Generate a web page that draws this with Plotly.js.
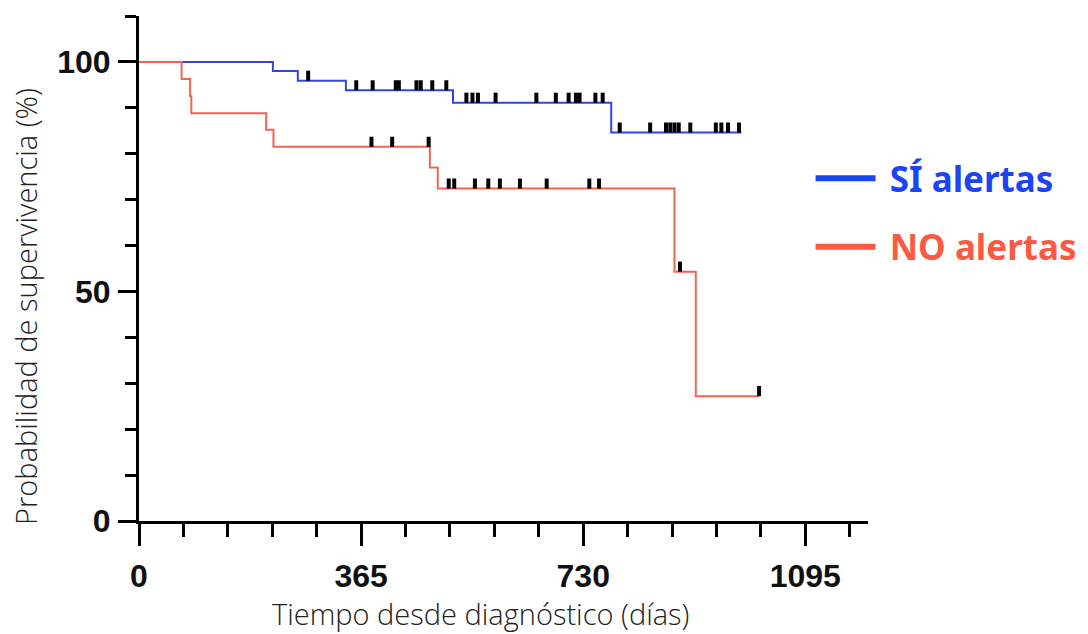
<!DOCTYPE html>
<html>
<head>
<meta charset="utf-8">
<script src="https://cdn.plot.ly/plotly-3.0.1.min.js"></script>
<style>html,body{margin:0;padding:0;background:#fff}#chart{width:1088px;height:634px}</style>
</head>
<body>
<div id="chart"></div>
<script>
// ---- Data ----
const seriesNames = ["SÍ alertas", "NO alertas"];

// Kaplan-Meier step points: time (days) and survival (%) after each event
const siTime = [0, 220, 261, 340, 516, 776, 990];
const siSurv = [100, 98.0, 95.9, 93.8, 91.1, 84.6, 84.6];
const siCensor = [278, 357, 384, 422, 427, 456, 463, 482, 505, 538, 548, 557, 586,
                  653, 685, 706, 718, 724, 750, 762, 790, 840, 866, 873, 880, 887,
                  906, 948, 957, 968, 986];

const noTime = [0, 70, 84, 86, 209, 221, 478, 491, 880, 915, 1019];
const noSurv = [100, 96.3, 92.5, 88.8, 85.2, 81.5, 77.0, 72.4, 54.3, 27.2, 27.2];
const noCensor = [382, 416, 476, 509, 518, 552, 574, 593, 626, 670, 740, 756, 889, 1019];

const xTickVals = [0, 365, 730, 1095];
const yTickVals = [0, 50, 100];

const xTitle = "Tiempo desde diagnóstico (días)";
const yTitle = "Probabilidad de supervivencia (%)";

// ---- Styles ----
const blueLine = "#3443e6";
const redLine = "#ef6551";
const blueLegend = "#1b45f4";
const redLegend = "#fb5a42";
const censorLen = 2.2;   // in % units (mark height)
const tickFont = {family: "'Liberation Sans', Arial, sans-serif", size: 32, color: "#111", weight: "bold"};
const titleFont = {family: "'Open Sans', 'Noto Sans', sans-serif", size: 29, color: "#222", weight: 300};

function survAt(times, surv, t) {
  let v = surv[0];
  for (let i = 0; i < times.length; i++) { if (times[i] <= t) v = surv[i]; }
  return v;
}

function censorTrace(times, surv, cens) {
  return {
    type: "scatter", mode: "markers",
    x: cens, y: cens.map(t => survAt(times, surv, t)),
    marker: {opacity: 0, size: 2},
    error_y: {type: "data", symmetric: false, array: cens.map(() => censorLen),
              arrayminus: cens.map(() => 0), width: 0, thickness: 4, color: "#000"},
    showlegend: false, hoverinfo: "skip"
  };
}

const traces = [
  {type: "scatter", mode: "lines", x: siTime, y: siSurv, line: {shape: "hv", color: blueLine, width: 2},
   showlegend: false, hoverinfo: "skip"},
  {type: "scatter", mode: "lines", x: noTime, y: noSurv, line: {shape: "hv", color: redLine, width: 2},
   showlegend: false, hoverinfo: "skip"},
  censorTrace(siTime, siSurv, siCensor),
  censorTrace(noTime, noSurv, noCensor),
  // legend entries
  {type: "scatter", mode: "lines", x: [null], y: [null], legendgroup: "a",
   name: '<b><span style="color:' + blueLegend + '">\u00a0' + seriesNames[0] + '</span></b>',
   line: {color: blueLegend, width: 6}},
  {type: "scatter", mode: "lines", x: [null], y: [null], legendgroup: "b",
   name: '<b><span style="color:' + redLegend + '">\u00a0' + seriesNames[1] + '</span></b>',
   line: {color: redLegend, width: 6}}
];

const layout = {
  width: 1088, height: 634,
  margin: {l: 139, r: 220, t: 16, b: 113, autoexpand: false},
  paper_bgcolor: "#fff", plot_bgcolor: "#fff",
  showlegend: true,
  legend: {xref: "container", yref: "container", x: 0.745, y: 0.765, xanchor: "left", yanchor: "top",
           font: {family: "'Noto Sans', 'Open Sans', sans-serif", size: 35},
           traceorder: "grouped", tracegroupgap: 20, itemwidth: 60, bgcolor: "rgba(0,0,0,0)"},
  xaxis: {
    range: [0, 1198], showgrid: false, zeroline: false,
    showline: true, linecolor: "#000", linewidth: 3,
    tickmode: "array", tickvals: xTickVals, ticktext: xTickVals.map(String),
    ticks: "outside", ticklen: 22, tickwidth: 3, tickcolor: "#000",
    minor: {dtick: 73, tick0: 0, ticks: "outside", ticklen: 13, tickwidth: 3, tickcolor: "#000", showgrid: false},
    tickfont: tickFont, ticklabelstandoff: 3,
    automargin: false, fixedrange: true
  },
  yaxis: {
    range: [0, 110], showgrid: false, zeroline: false,
    showline: true, linecolor: "#000", linewidth: 3,
    tickmode: "array", tickvals: yTickVals, ticktext: yTickVals.map(String),
    ticks: "outside", ticklen: 18, tickwidth: 3, tickcolor: "#000",
    minor: {dtick: 10, tick0: 0, ticks: "outside", ticklen: 11, tickwidth: 3, tickcolor: "#000", showgrid: false},
    tickfont: tickFont, ticklabelstandoff: 1,
    automargin: false, fixedrange: true
  },
  annotations: [
    {text: yTitle, textangle: -90, font: titleFont, showarrow: false,
     xref: "paper", yref: "paper", x: -0.155, y: 0.424, xanchor: "center", yanchor: "middle"},
    {text: xTitle, font: titleFont, showarrow: false,
     xref: "paper", yref: "paper", x: 0.469, y: -0.184, xanchor: "center", yanchor: "middle"}
  ]
};

Plotly.newPlot("chart", traces, layout, {staticPlot: true, displayModeBar: false});
</script>
</body>
</html>
